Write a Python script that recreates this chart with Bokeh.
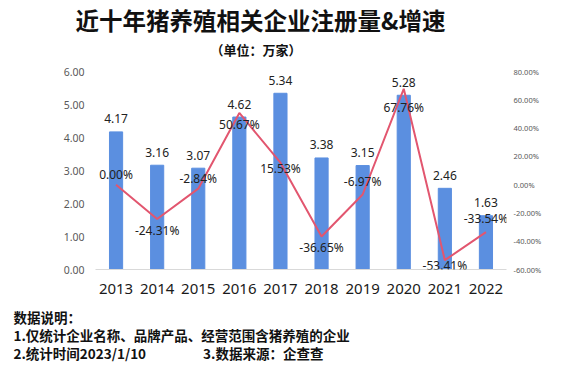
from bokeh.plotting import figure
from bokeh.models import (ColumnDataSource, Range1d, LinearAxis, FixedTicker,
                          PrintfTickFormatter, LabelSet, Title)
from bokeh.core.properties import value
from bokeh.embed import file_html
from bokeh.resources import INLINE

years = ["2013", "2014", "2015", "2016", "2017", "2018", "2019", "2020", "2021", "2022"]
counts = [4.17, 3.16, 3.07, 4.62, 5.34, 3.38, 3.15, 5.28, 2.46, 1.63]
growth = [0.00, -24.31, -2.84, 50.67, 15.53, -36.65, -6.97, 67.76, -53.41, -33.54]

# label placement (screen px, positive = up) for the growth labels
growth_label_dy = [10, -11, 10, -12, -6, -11, 13, -19, -5, 14]

FONT = "Noto Sans CJK SC"
NUM = "Noto Sans"
BAR = "#5B8FE0"
LINE = "#E2566F"

src = ColumnDataSource(dict(
    year=years, count=counts, growth=growth,
    count_txt=["%.2f" % v for v in counts],
    growth_txt=["%.2f%%" % v for v in growth],
    dy=growth_label_dy,
))

W, H = 559, 363
ML, MR, MT, MB = 95, 53, 70, 93

p = figure(width=W, height=H, x_range=years, y_range=Range1d(0, 6),
           output_backend="svg", toolbar_location=None, title=None,
           min_border_left=ML, min_border_right=MR,
           min_border_top=MT, min_border_bottom=MB)
p.outline_line_color = None
p.xgrid.visible = False
p.ygrid.visible = False
p.background_fill_color = "white"
p.border_fill_color = "white"

p.extra_y_ranges = {"pct": Range1d(-60, 80)}

p.vbar(x="year", top="count", width=0.32, source=src, color=BAR)
p.line(x="year", y="growth", source=src, y_range_name="pct",
       line_color=LINE, line_width=2)

# left axis
ya = p.yaxis[0]
ya.ticker = FixedTicker(ticks=[0, 1, 2, 3, 4, 5, 6])
ya.formatter = PrintfTickFormatter(format="%.2f")
ya.axis_line_color = None
ya.major_tick_line_color = None
ya.minor_tick_line_color = None
ya.major_label_text_font = NUM
ya.major_label_text_font_size = "10.5px"
ya.major_label_text_color = "#595959"
ya.major_label_standoff = 5

# right axis
ra = LinearAxis(y_range_name="pct")
ra.ticker = FixedTicker(ticks=[-60, -40, -20, 0, 20, 40, 60, 80])
ra.formatter = PrintfTickFormatter(format="%.2f%%")
ra.axis_line_color = None
ra.major_tick_line_color = None
ra.minor_tick_line_color = None
ra.major_label_text_font = NUM
ra.major_label_text_font_size = "7.5px"
ra.major_label_text_color = "#595959"
ra.major_label_standoff = 1
p.add_layout(ra, "right")

# bottom axis
xa = p.xaxis[0]
xa.axis_line_color = "#D9D9D9"
xa.major_tick_line_color = None
xa.minor_tick_line_color = None
xa.major_label_text_font = NUM
xa.major_label_text_font_size = "15px"
xa.major_label_text_color = "#1a1a1a"
xa.major_label_standoff = 8

p.add_layout(LabelSet(x="year", y="count", text="count_txt", source=src,
                      text_align="center", text_baseline="middle", y_offset=13,
                      text_font=value(NUM), text_font_size=value("12px"),
                      text_color=value("#222222")))
p.add_layout(LabelSet(x="year", y="growth", text="growth_txt", source=src,
                      y_range_name="pct", y_offset="dy",
                      text_align="center", text_baseline="middle",
                      text_font=value(NUM), text_font_size=value("12px"),
                      text_color=value("#222222")))

def title(text, place, size, offset=0, standoff=0, line_height=1.2):
    t = Title(text=text, align="left", offset=offset, standoff=standoff,
              text_font=FONT, text_font_size=size, text_font_style="bold",
              text_color="#111111", text_line_height=line_height)
    p.add_layout(t, place)

# above: first added is nearest the frame
title(" ", "above", "7px")  # spacer
title("（单位：万家）", "above", "13px", offset=115, standoff=2)
title("近十年猪养殖相关企业注册量&增速", "above", "23.5px", offset=-20, standoff=0)

# below: first added is nearest the axis
title(" ", "below", "4px")  # spacer
title("数据说明：\n1.仅统计企业名称、品牌产品、经营范围含猪养殖的企业\n"
      "2.统计时间2023/1/10\u3000\u3000\u3000\u3000   3.数据来源：企查查",
      "below", "13.5px", offset=-ML + 13, line_height=0.92)

open("out.html", "w").write(file_html(p, INLINE))
